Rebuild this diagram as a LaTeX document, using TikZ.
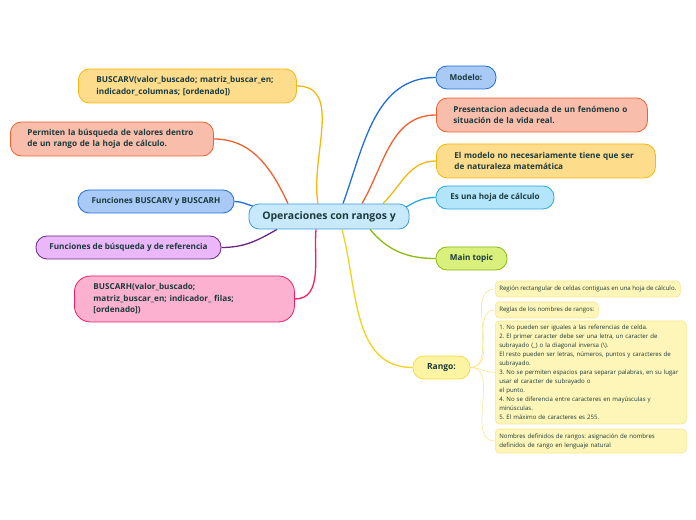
\documentclass[tikz,border=0pt]{standalone}
\usepackage{fontspec}
\setmainfont{Open Sans}
\usetikzlibrary{backgrounds}
\frenchspacing

\definecolor{ink}{HTML}{1B3A3C}
\definecolor{opfill}{HTML}{C8E9FB}
\definecolor{opline}{HTML}{3C9EDC}
\definecolor{yelfill}{HTML}{FDDC8C}
\definecolor{yelline}{HTML}{F6B70E}
\definecolor{salfill}{HTML}{F8BEAB}
\definecolor{salline}{HTML}{F0602E}
\definecolor{bluefill}{HTML}{A9C9F7}
\definecolor{blueline}{HTML}{1F6FD8}
\definecolor{purfill}{HTML}{EAB8F8}
\definecolor{purline}{HTML}{6A2482}
\definecolor{pinkfill}{HTML}{FDB1D0}
\definecolor{pinkline}{HTML}{EE1E6B}
\definecolor{skyfill}{HTML}{B4E6FB}
\definecolor{skyline}{HTML}{27A8E0}
\definecolor{grnfill}{HTML}{D9F07C}
\definecolor{grnline}{HTML}{8BB90F}
\definecolor{rgfill}{HTML}{FCF3A3}
\definecolor{rgline}{HTML}{F2DD4C}
\definecolor{rgwire}{HTML}{F3D21C}
\definecolor{notefill}{HTML}{FEF6B8}
\definecolor{noteline}{HTML}{F8E78C}

\tikzstyle{topic}=[draw, rounded corners=11bp, line width=0.8bp, text=ink, font=\bfseries\fontsize{8.2}{11.5}\selectfont, inner ysep=0pt]
\tikzstyle{multi}=[topic, anchor=west, inner xsep=16bp, align=left]
\tikzstyle{note}=[draw=noteline, fill=notefill, rounded corners=4bp, line width=0.6bp, text=ink, font=\fontsize{6.1}{9}\selectfont, anchor=west, inner xsep=4bp, inner ysep=0pt, align=left]
\tikzstyle{branch}=[line width=1.3bp]
\tikzstyle{twig}=[draw=noteline, line width=0.6bp]

\begin{document}
\begin{tikzpicture}[x=1bp, y=1bp]
	\useasboundingbox (0,0) rectangle (696,520);
	\begin{scope}
		\node (op) at (329, 303.5)[topic, draw=opline, fill=opfill, minimum width=160bp, minimum height=25bp, rounded corners=10bp, font=\bfseries\fontsize{10.5}{12}\selectfont] {Operaciones con rangos y};

		% left side
		\node (bv) at (78, 434)[multi, draw=yelline, fill=yelfill, inner xsep=18bp, text width=182bp, minimum height=34bp] {BUSCARV(valor\_buscado; matriz\_buscar\_en;\\ indicador\_columnas; [ordenado])};
		\node (perm) at (10, 381)[multi, draw=salline, fill=salfill, inner xsep=17bp, text width=169bp, minimum height=34bp] {Permiten la búsqueda de valores dentro\\ de un rango de la hoja de cálculo.};
		\node (fbv) at (156, 318.5)[topic, draw=blueline, fill=bluefill, minimum width=156bp, minimum height=23bp] {Funciones BUSCARV y BUSCARH};
		\node (fbr) at (128.5, 272.5)[topic, draw=purline, fill=purfill, minimum width=185bp, minimum height=23bp] {Funciones de búsqueda y de referencia};
		\node (bh) at (74, 221)[multi, draw=pinkline, fill=pinkfill, inner xsep=19bp, text width=182bp, minimum height=46bp, rounded corners=16bp] {BUSCARH(valor\_buscado;\\ matriz\_buscar\_en; indicador\_ filas;\\{}[ordenado])};

		% right side
		\node (mod) at (466, 442.5)[topic, draw=blueline, fill=bluefill, minimum width=60bp, minimum height=23bp] {Modelo:};
		\node (pres) at (436, 405)[multi, draw=salline, fill=salfill, inner xsep=17bp, text width=177bp, minimum height=34bp] {Presentacion adecuada de un fenómeno o\\ situación de la vida real.};
		\node (elm) at (436, 359)[multi, draw=yelline, fill=yelfill, inner xsep=18bp, text width=183bp, minimum height=34bp] {El modelo no necesariamente tiene que ser\\ de naturaleza matemática};
		\node (hoja) at (495, 322.5)[topic, draw=skyline, fill=skyfill, minimum width=118bp, minimum height=23bp] {Es una hoja de cálculo};
		\node (mt) at (471.5, 261.5)[topic, draw=grnline, fill=grnfill, minimum width=71bp, minimum height=23bp] {Main topic};
		\node (rango) at (441.5, 152.5)[topic, draw=rgline, fill=rgfill, minimum width=57bp, minimum height=23bp, font=\bfseries\fontsize{8.5}{10}\selectfont] {Rango:};

		% notes of Rango
		\node (r1) at (495, 231)[note, minimum height=16bp] {Región rectangular de celdas contiguas en una hoja de cálculo.};
		\node (r2) at (495, 210)[note, minimum height=16bp] {Reglas de los nombres de rangos:};
		\node (r3) at (495, 147.5)[note, text width=183bp, minimum height=103bp] {1. No pueden ser iguales a las referencias de celda.\\ 2. El primer caracter debe ser una letra, un caracter de\\ subrayado (\_) o la diagonal inversa (\textbackslash).\\ El resto pueden ser letras, números, puntos y caracteres de\\ subrayado.\\ 3. No se permiten espacios para separar palabras, en su lugar\\ usar el caracter de subrayado o\\ el punto.\\ 4. No se diferencia entre caracteres en mayúsculas y\\ minúsculas.\\ 5. El máximo de caracteres es 255.};
		\node (r4) at (495, 79)[note, text width=183bp, minimum height=24bp] {Nombres definidos de rangos: asignación de nombres\\ definidos de rango en lenguaje natural};
	\end{scope}
	\begin{scope}[on background layer]
		\draw[branch, yelline] (bv.east) to[out=0, in=100] ([xshift=-11bp]op.north);
		\draw[branch, salline] (perm.east) to[out=0, in=115] ([xshift=-41bp]op.north);
		\draw[branch, blueline] (fbv.east) to[out=0, in=165] ([xshift=-76bp, yshift=-2.5bp]op.north);
		\draw[branch, purline] (fbr.east) to[out=0, in=-150] ([xshift=-52bp]op.south);
		\draw[branch, pinkline] (bh.east) to[out=0, in=-95] ([xshift=-13bp]op.south);

		\draw[branch, blueline] (mod.west) to[out=180, in=70] ([xshift=14bp]op.north);
		\draw[branch, salline] (pres.west) to[out=180, in=60] ([xshift=33bp]op.north);
		\draw[branch, yelline] (elm.west) to[out=180, in=45] ([xshift=54bp]op.north);
		\draw[branch, skyline] (hoja.west) to[out=180, in=30] ([xshift=-5bp, yshift=8.5bp]op.east);
		\draw[branch, grnline] (mt.west) to[out=180, in=-50] ([xshift=41bp]op.south);
		\draw[branch, rgwire] (rango.west) to[out=180, in=-75] ([xshift=13bp]op.south);

		\foreach \n in {r1, r2, r3, r4}
			\draw[twig] (rango.east) to[out=0, in=180] (\n.west);
	\end{scope}
\end{tikzpicture}
\end{document}
